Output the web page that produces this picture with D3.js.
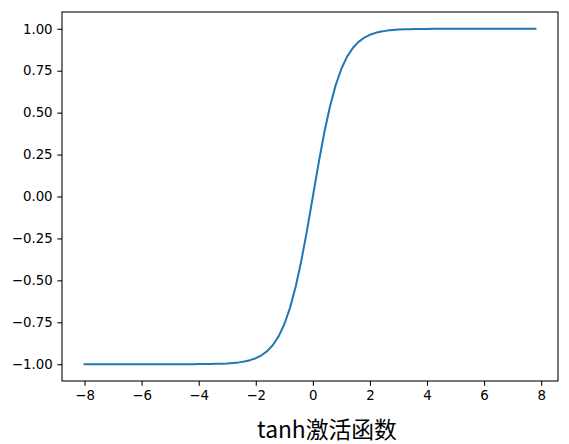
<!DOCTYPE html>
<html>
<head>
<meta charset="utf-8">
<script src="https://cdn.jsdelivr.net/npm/d3@7"></script>
<style>
  body { margin: 0; background: #fff; }
</style>
</head>
<body>
<div id="chart"></div>
<script>
// points, x from -8 to 7.8 in steps of 0.2
const xs = [-8.0, -7.8, -7.6, -7.4, -7.2, -7.0, -6.8, -6.6, -6.4, -6.2,
    -6.0, -5.8, -5.6, -5.4, -5.2, -5.0, -4.8, -4.6, -4.4, -4.2,
    -4.0, -3.8, -3.6, -3.4, -3.2, -3.0, -2.8, -2.6, -2.4, -2.2,
    -2.0, -1.8, -1.6, -1.4, -1.2, -1.0, -0.8, -0.6, -0.4, -0.2,
    0.0, 0.2, 0.4, 0.6, 0.8, 1.0, 1.2, 1.4, 1.6, 1.8,
    2.0, 2.2, 2.4, 2.6, 2.8, 3.0, 3.2, 3.4, 3.6, 3.8,
    4.0, 4.2, 4.4, 4.6, 4.8, 5.0, 5.2, 5.4, 5.6, 5.8,
    6.0, 6.2, 6.4, 6.6, 6.8, 7.0, 7.2, 7.4, 7.6, 7.8];
const ys = [-1.0, -1.0, -1.0, -1.0, -1.0, -1.0, -1.0, -1.0, -1.0, -1.0,
    -1.0, -1.0, -1.0, -1.0, -1.0, -0.9999, -0.9999, -0.9998, -0.9997, -0.9996,
    -0.9993, -0.9990, -0.9985, -0.9978, -0.9967, -0.9951, -0.9926, -0.9890, -0.9837, -0.9757,
    -0.9640, -0.9468, -0.9217, -0.8854, -0.8337, -0.7616, -0.6640, -0.5370, -0.3799, -0.1974,
    0.0, 0.1974, 0.3799, 0.5370, 0.6640, 0.7616, 0.8337, 0.8854, 0.9217, 0.9468,
    0.9640, 0.9757, 0.9837, 0.9890, 0.9926, 0.9951, 0.9967, 0.9978, 0.9985, 0.9990,
    0.9993, 0.9996, 0.9997, 0.9998, 0.9999, 0.9999, 1.0, 1.0, 1.0, 1.0,
    1.0, 1.0, 1.0, 1.0, 1.0, 1.0, 1.0, 1.0, 1.0, 1.0];
const xTicks = [-8, -6, -4, -2, 0, 2, 4, 6, 8];
const yTicks = [-1.0, -0.75, -0.5, -0.25, 0.0, 0.25, 0.5, 0.75, 1.0];
const xLabel = 'tanh激活函数';

const w = 569,
    h = 444,
    plot_left = 62,
    plot_right = 558,
    plot_top = 12,
    plot_bottom = 381,
    lineColor = '#1f77b4',
    tickFont = '"DejaVu Sans", sans-serif';

const svg = d3.select('#chart').append('svg')
    .attr('width', w)
    .attr('height', h);

const x = d3.scaleLinear().domain([-8.79, 8.59]).range([plot_left, plot_right]);
const y = d3.scaleLinear().domain([-1.1, 1.1]).range([plot_bottom, plot_top]);

const minus = s => s.replace('-', '\u2212');

// axes
const xAxis = svg.append('g')
    .attr('transform', 'translate(0,' + plot_bottom + ')')
    .call(d3.axisBottom(x).tickValues(xTicks).tickSize(4.7).tickPadding(4.7)
        .tickFormat(d => minus(d3.format('d')(d))));

const yAxis = svg.append('g')
    .attr('transform', 'translate(' + plot_left + ',0)')
    .call(d3.axisLeft(y).tickValues(yTicks).tickSize(4.7).tickPadding(4.7)
        .tickFormat(d => minus(d3.format('.2f')(d))));

[xAxis, yAxis].forEach(g => {
    g.select('.domain').remove();
    g.selectAll('line').attr('stroke', '#000').attr('stroke-width', 1.07);
    g.selectAll('text')
        .attr('fill', '#000')
        .style('font-family', tickFont)
        .style('font-size', '13.33px');
});

// curve
const pts = xs.map((v, i) => [v, ys[i]]);
svg.append('path')
    .datum(pts)
    .attr('fill', 'none')
    .attr('stroke', lineColor)
    .attr('stroke-width', 2)
    .attr('stroke-linejoin', 'round')
    .attr('stroke-linecap', 'square')
    .attr('d', d3.line().x(d => x(d[0])).y(d => y(d[1])));

// frame
svg.append('rect')
    .attr('x', plot_left)
    .attr('y', plot_top)
    .attr('width', plot_right - plot_left)
    .attr('height', plot_bottom - plot_top)
    .attr('fill', 'none')
    .attr('stroke', '#000')
    .attr('stroke-width', 1.07);

// axis label
svg.append('text')
    .attr('x', 327)
    .attr('y', 438)
    .attr('text-anchor', 'middle')
    .style('font-family', '"Noto Sans CJK SC", sans-serif')
    .style('font-size', '22.8px')
    .attr('fill', '#000')
    .text(xLabel);
</script>
</body>
</html>
